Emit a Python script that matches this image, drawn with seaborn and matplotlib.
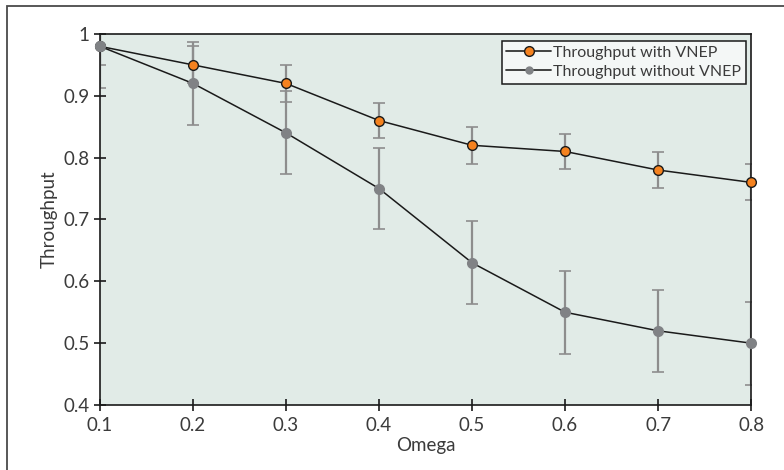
import numpy as np
import pandas as pd
import matplotlib
matplotlib.use("Agg")
import matplotlib.pyplot as plt
import seaborn as sns
from matplotlib.patches import Rectangle
from matplotlib.lines import Line2D

# data
omega = [0.1, 0.2, 0.3, 0.4, 0.5, 0.6, 0.7, 0.8]
with_vnep = [0.98, 0.95, 0.92, 0.86, 0.82, 0.81, 0.78, 0.76]
with_err = [0.03, 0.03, 0.03, 0.029, 0.03, 0.029, 0.029, 0.029]
without_vnep = [0.98, 0.92, 0.84, 0.75, 0.63, 0.55, 0.52, 0.50]
without_err = [0.067, 0.067, 0.067, 0.066, 0.067, 0.067, 0.066, 0.067]
yticks = [0.4, 0.5, 0.6, 0.7, 0.8, 0.9, 1.0]
ytick_labels = ["0.4", "0.5", "0.6", "0.7", "0.8", "0.9", "1"]

df = pd.DataFrame({"Omega": omega, "with": with_vnep, "without": without_vnep})

sns.set_style("ticks")
plt.rcParams['font.family'] = ['Lato', 'DejaVu Sans']
text_col = "#3b3b3b"

fig = plt.figure(figsize=(7.84, 4.70), dpi=100)
ax = fig.add_axes([0.1276, 0.1383, 0.8304, 0.7894])
ax.set_facecolor("#e1ebe7")

orange = "#f5821f"
grey = "#808285"
bar_col = "#8d8d8d"

# error bars first so markers sit on top
ax.errorbar(omega, without_vnep, yerr=without_err, fmt="none", ecolor=bar_col,
            elinewidth=1.6, capsize=4.5, capthick=1.2, zorder=2)
ax.errorbar(omega, with_vnep, yerr=with_err, fmt="none", ecolor=bar_col,
            elinewidth=1.6, capsize=4.5, capthick=1.2, zorder=2)

sns.lineplot(data=df, x="Omega", y="with", ax=ax, color="#1a1a1a", lw=1.1,
             marker="o", markersize=7, markerfacecolor=orange,
             markeredgecolor="#1a1a1a", markeredgewidth=1.0, zorder=3,
             clip_on=False)
sns.lineplot(data=df, x="Omega", y="without", ax=ax, color="#1a1a1a", lw=1.1,
             marker="o", markersize=8, markerfacecolor=grey,
             markeredgecolor=grey, markeredgewidth=0, zorder=3,
             clip_on=False)

ax.set_xlim(0.1, 0.8)
ax.set_ylim(0.4, 1.0)
ax.set_xticks(omega)
ax.set_xticklabels([f"{v:g}" for v in omega])
ax.set_yticks(yticks)
ax.set_yticklabels(ytick_labels)
ax.tick_params(direction="inout", length=8, width=1.2, colors="#1a1a1a",
               labelcolor=text_col, labelsize=13.5)
ax.tick_params(axis="x", pad=5)
for s in ax.spines.values():
    s.set_color("#1a1a1a")
    s.set_linewidth(1.2)

ax.set_xlabel("Omega", fontsize=13.5, color=text_col, labelpad=2)
ax.set_ylabel("Throughput", fontsize=13.5, color=text_col, labelpad=4)

handles = [
    Line2D([], [], color="#333333", lw=1.3, marker="o", markersize=7,
           markerfacecolor=orange, markeredgecolor="#1a1a1a"),
    Line2D([], [], color="#333333", lw=1.3, marker="o", markersize=5,
           markerfacecolor=grey, markeredgecolor=grey),
]
leg = ax.legend(handles, ["Throughput with VNEP", "Throughput without VNEP"],
                loc="upper right", bbox_to_anchor=(0.9965, 0.99), fontsize=11.5,
                frameon=True, fancybox=False, handlelength=2.8,
                handletextpad=0.1, labelspacing=0.3, borderpad=0.3,
                borderaxespad=0.2)
leg.get_frame().set_edgecolor("#1a1a1a")
leg.get_frame().set_facecolor("#f4f7f6")
leg.get_frame().set_alpha(1)
leg.get_frame().set_linewidth(1.1)
for t in leg.get_texts():
    t.set_color(text_col)

# outer frame (only left and top edges fall inside the image)
fig.patches.append(Rectangle((6.5 / 784, -0.1), 1.2, 1 - 5.5 / 470 + 0.1,
                             transform=fig.transFigure, fill=False,
                             edgecolor="#4a4a4a", lw=1.3))

fig.savefig("out.png", dpi=100)
